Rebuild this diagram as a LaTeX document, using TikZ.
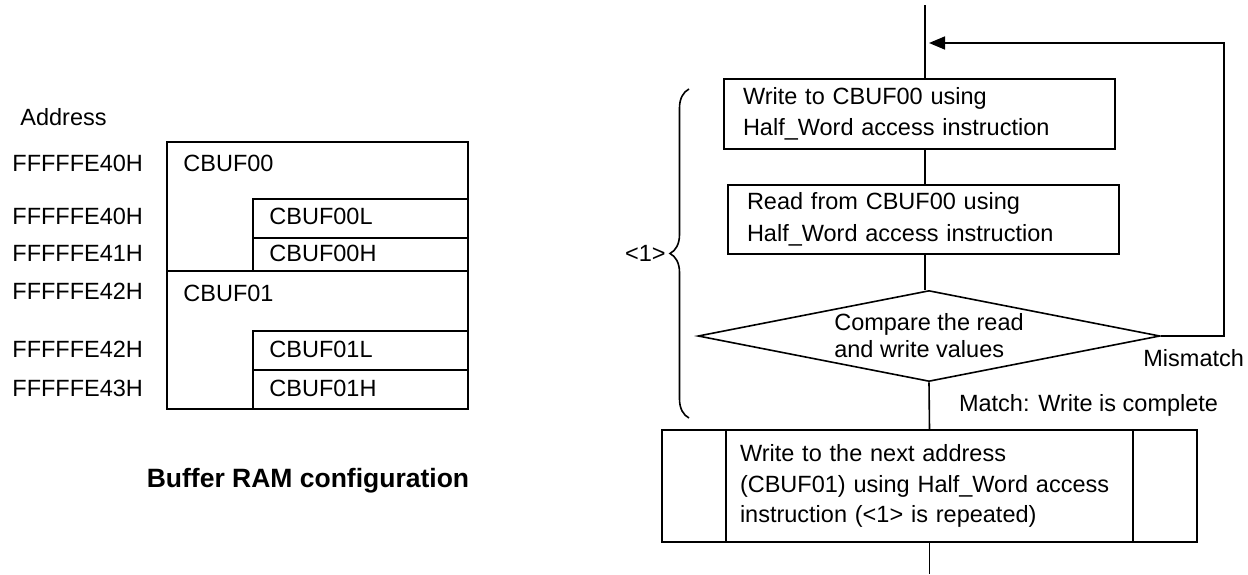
\documentclass[tikz,border=0pt]{standalone}
\usepackage{fontspec}
\setmainfont{Liberation Sans}
\usetikzlibrary{shapes.geometric, arrows.meta, positioning, calc, decorations.pathreplacing}
\tikzset{
	addr/.style     ={anchor=west, inner sep=0pt},
	cell/.style     ={rectangle, draw=black, line width=0.8pt, anchor=north west, inner sep=0pt},
	cellname/.style ={anchor=west, inner sep=0pt},
	process/.style  ={rectangle, draw=black, line width=0.8pt, align=left, text width=176.5pt, inner xsep=9.5pt, inner ysep=0pt},
	decision/.style ={diamond, aspect=5, draw=black, line width=0.8pt, minimum width=231pt, minimum height=45.5pt, inner sep=0pt, align=left, font=\fontsize{11.75}{13.5}\selectfont},
	subproc/.style  ={rectangle, draw=black, line width=0.8pt, align=left, text width=189.5pt, inner xsep=39pt, inner ysep=0pt, minimum height=56pt, font=\fontsize{11.75}{15.25}\selectfont},
	flowline/.style ={line width=0.8pt},
	flowarrow/.style={line width=0.8pt, -{Triangle[length=8pt, width=6.5pt]}},
	repbrace/.style ={decorate, decoration={brace, amplitude=9.5pt}, line width=0.8pt},
}
\begin{document}
\begin{tikzpicture}[x=0.5pt, y=-0.5pt, font=\fontsize{11.75}{15.75}\selectfont]
	\useasboundingbox (0,0) rectangle (1248,574);
	% buffer RAM map
	\node[addr] (addrhead) at (20,117) {Address};
	\node[cell, minimum width=150.5pt, minimum height=64.5pt] (buf0) at (166,141) {};
	\node[cell, minimum width=107.5pt, minimum height=19.5pt] (buf0l) at (252,198) {};
	\node[cell, minimum width=107.5pt, minimum height=16.5pt] (buf0h) at (252,237) {};
	\node[cell, minimum width=150.5pt, minimum height=69pt] (buf1) at (166,270) {};
	\node[cell, minimum width=107.5pt, minimum height=19.5pt] (buf1l) at (252,330) {};
	\node[cell, minimum width=107.5pt, minimum height=19.5pt] (buf1h) at (252,369) {};
	\node[cellname] (n0) at (183,163) {CBUF00};
	\node[cellname] (n0l) at (269,216) {CBUF00L};
	\node[cellname] (n0h) at (269,253) {CBUF00H};
	\node[cellname] (n1) at (183,293) {CBUF01};
	\node[cellname] (n1l) at (269,349) {CBUF01L};
	\node[cellname] (n1h) at (269,388) {CBUF01H};
	\node[addr] (a0) at (12,163) {FFFFFE40H};
	\node[addr] (a0l) at (12,216) {FFFFFE40H};
	\node[addr] (a0h) at (12,253) {FFFFFE41H};
	\node[addr] (a1) at (12,291) {FFFFFE42H};
	\node[addr] (a1l) at (12,349) {FFFFFE42H};
	\node[addr] (a1h) at (12,388) {FFFFFE43H};
	\node[font=\bfseries\fontsize{13.25}{16}\selectfont] (title) at (308,481) {Buffer RAM configuration};
	% write/verify flow
	\coordinate (in) at (925,5);
	\coordinate (out) at (929.5,574);
	\coordinate (loop) at (1224,43);
	\coordinate (join) at (929,43);
	\node[process, minimum height=35pt] (w) at (919.5,114) {Write to CBUF00 using\\ Half\_Word access instruction};
	\node[process, minimum height=34.5pt] (r) at (923.5,219.5) {Read from CBUF00 using\\ Half\_Word access instruction};
	\node[decision] (dec) at (929,336) {Compare the read\\ and write values};
	\node[subproc] (sub) at (929.5,486) {Write to the next address\\ (CBUF01) using Half\_Word access\\ instruction (<1> is repeated)};
	\draw[flowline] ([xshift=32.5pt]sub.north west) -- ([xshift=32.5pt]sub.south west);
	\draw[flowline] ([xshift=-32.5pt]sub.north east) -- ([xshift=-32.5pt]sub.south east);
	\draw[flowline] (in) -- (in |- w.north);
	\draw[flowline] (in |- w.south) -- (in |- r.north);
	\draw[flowline] (in |- r.south) -- (in |- dec.north);
	\draw[flowline] (dec.south) -- node[right=14.5pt, inner sep=0pt] (match) {Match: Write is complete} (sub.north);
	\draw[flowline] (sub.south) -- (out);
	\draw[flowarrow] (dec.east) -| (loop) -- (join);
	\node[anchor=west, inner sep=0pt] (mis) at (1143,358) {Mismatch};
	% repeated part <1>
	\coordinate (bt) at (689,89);
	\coordinate (bb) at (689,418);
	\draw[repbrace] (bb) -- (bt);
	\node[anchor=east, inner sep=0pt] (rep) at (666,253) {<1>};
\end{tikzpicture}
\end{document}
